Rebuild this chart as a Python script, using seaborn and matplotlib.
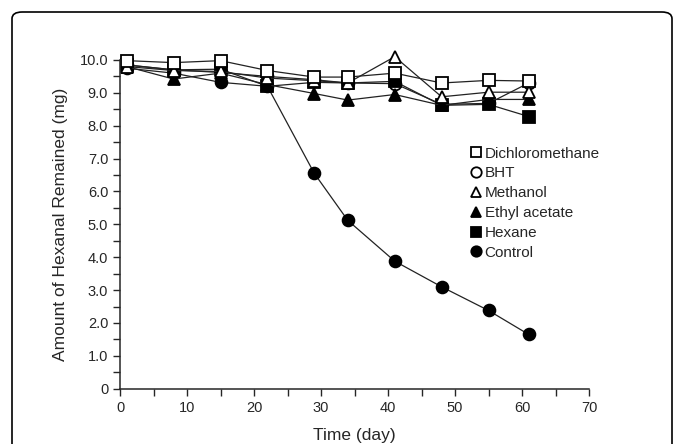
import matplotlib
matplotlib.use("Agg")
import matplotlib.pyplot as plt
from matplotlib.patches import FancyBboxPatch
from matplotlib.ticker import MultipleLocator
import seaborn as sns
import pandas as pd

# Days sampled
days = [1, 8, 15, 22, 29, 34, 41, 48, 55, 61]

# Amount of hexanal remained (mg) per treatment
dichloromethane = [9.98, 9.92, 9.98, 9.68, 9.48, 9.48, 9.60, 9.30, 9.38, 9.36]
bht = [9.85, 9.70, 9.62, 9.50, 9.40, 9.30, 9.28, 8.65, 8.68, 9.30]
methanol = [9.80, 9.68, 9.65, 9.45, 9.37, 9.30, 10.10, 8.88, 9.02, 9.02]
ethyl_acetate = [9.80, 9.42, 9.60, 9.25, 8.98, 8.78, 8.95, 8.62, 8.80, 8.80]
hexane = [9.85, 9.70, 9.72, 9.20, 9.32, 9.30, 9.35, 8.62, 8.65, 8.28]
control = [9.75, 9.60, 9.32, 9.20, 6.55, 5.12, 3.88, 3.10, 2.38, 1.65]

series = {
    "Dichloromethane": dichloromethane,
    "BHT": bht,
    "Methanol": methanol,
    "Ethyl acetate": ethyl_acetate,
    "Hexane": hexane,
    "Control": control,
}
# marker, face colour
styles = {
    "Dichloromethane": ("s", "white"),
    "BHT": ("o", "white"),
    "Methanol": ("^", "white"),
    "Ethyl acetate": ("^", "black"),
    "Hexane": ("s", "black"),
    "Control": ("o", "black"),
}
draw_order = ["BHT", "Control", "Hexane", "Ethyl acetate", "Methanol", "Dichloromethane"]

sns.set_style("ticks")
plt.rcParams["font.family"] = ["Liberation Sans", "DejaVu Sans"]

fig = plt.figure(figsize=(6.83, 4.44), dpi=100)
ax = fig.add_axes([0.1757, 0.1245, 0.6867, 0.7404])

# rounded frame around the figure
frame = FancyBboxPatch((12 / 683, -0.05), 660 / 683, 1 - 12 / 444 + 0.05,
                       boxstyle="round,pad=0,rounding_size=0.015",
                       transform=fig.transFigure, fill=False,
                       edgecolor="black", linewidth=1.2, clip_on=False)
fig.patches.append(frame)

for name in draw_order:
    df = pd.DataFrame({"day": days, "amount": series[name]})
    m, fc = styles[name]
    sns.lineplot(data=df, x="day", y="amount", ax=ax, color="#222222",
                 linewidth=0.9, marker=m, markersize=8 if m != "o" else 8.5,
                 markerfacecolor=fc, markeredgecolor="black",
                 markeredgewidth=1.3, label=name, clip_on=False)

ax.set_xlim(0, 70)
ax.set_ylim(0, 10)
ax.xaxis.set_major_locator(MultipleLocator(10))
ax.xaxis.set_minor_locator(MultipleLocator(5))
ax.yaxis.set_major_locator(MultipleLocator(1))
ax.yaxis.set_minor_locator(MultipleLocator(0.5))
ax.set_yticks(range(0, 11))
ax.set_yticklabels(["0"] + [f"{v:.1f}" for v in range(1, 11)])
ax.tick_params(which="major", length=5, width=1, labelsize=10.5, direction="out")
ax.tick_params(which="minor", length=5, width=1, direction="out")
sns.despine(ax=ax)
for s in ["left", "bottom"]:
    ax.spines[s].set_linewidth(1.1)

ax.set_xlabel("Time (day)", fontsize=12.5, labelpad=10)
ax.set_ylabel("Amount of Hexanal Remained (mg)", fontsize=12.5, labelpad=8)

handles, labels = ax.get_legend_handles_labels()
order = list(series)
hmap = dict(zip(labels, handles))
leg = ax.legend([hmap[n] for n in order], order, loc="upper left",
                bbox_to_anchor=(0.745, 0.755), frameon=False, fontsize=11,
                handlelength=0, handletextpad=0.6, labelspacing=0.38,
                borderaxespad=0)
for h in leg.legend_handles:
    h.set_linewidth(0)
    h.set_markersize(7.5)

fig.savefig("out.png", dpi=100)
